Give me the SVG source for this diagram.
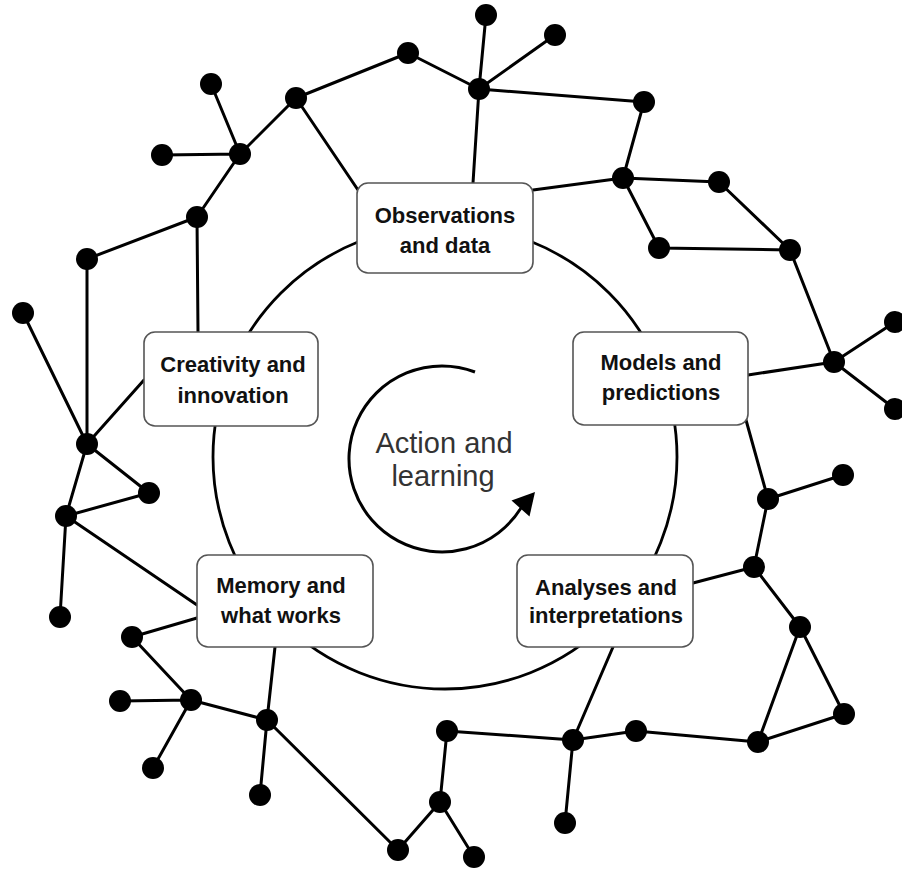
<svg xmlns="http://www.w3.org/2000/svg" width="902" height="869" viewBox="0 0 902 869">
<style>
.e{stroke:#000;stroke-width:3;fill:none;stroke-linecap:round}
.n{fill:#000}
.box{fill:#fff;stroke:#555;stroke-width:1.6}
.lbl{font-family:"Liberation Sans",Arial,sans-serif;font-weight:bold;font-size:22px;fill:#111;text-anchor:middle}
.ctr{font-family:"Liberation Sans",Arial,sans-serif;font-size:29px;fill:#333;text-anchor:middle}
</style>
<rect width="902" height="869" fill="#fff"/>
<g id="cycle">
<circle cx="445" cy="457" r="232" fill="none" stroke="#000" stroke-width="2.8"/>
<path d="M475,372 A93,93 0 1,0 521,508" fill="none" stroke="#000" stroke-width="3"/>
<polygon points="535,492 511.5,500.6 529.5,516.4" fill="#000"/>
<text class="ctr" x="444" y="453">Action and</text>
<text class="ctr" x="443" y="486">learning</text>
</g>
<g id="connectors">
<path class="e" d="M408,53L296,98M296,98L240,154M211,84L240,154M162,155L240,154M240,154L197,217M197,217L87,259M296,98L358,190"/>
<path class="e" d="M408,53L479,89M479,89L486,15M479,89L555,35M479,89L644,102M479,89L473,183M644,102L623,178M623,178L533,190M623,178L719,182M623,178L659,248M659,248L790,250M719,182L790,250M790,250L834,362M834,362L895,322M834,362L895,409M834,362L748,375"/>
<path class="e" d="M746,420L768,499M768,499L843,475M768,499L754,567M754,567L693,583M754,567L800,627M800,627L844,714M800,627L758,742M758,742L844,714M758,742L636,731M636,731L573,740M573,740L613,647M573,740L565,823M573,740L447,731"/>
<path class="e" d="M447,731L440,802M440,802L474,857M440,802L398,850M398,850L267,720M267,720L275,647M267,720L260,795M267,720L191,700M191,700L132,637M191,700L120,701M191,700L153,768M132,637L197,618"/>
<path class="e" d="M66,516L197,605M66,516L60,617M66,516L149,493M87,444L149,493M87,444L66,516M87,444L23,313M87,444L144,380M87,259L87,444M197,217L198,332"/>
</g>
<g id="dots">
<circle class="n" cx="408" cy="53" r="11"/><circle class="n" cx="296" cy="98" r="11"/><circle class="n" cx="211" cy="84" r="11"/><circle class="n" cx="240" cy="154" r="11"/><circle class="n" cx="162" cy="155" r="11"/><circle class="n" cx="197" cy="217" r="11"/><circle class="n" cx="87" cy="259" r="11"/>
<circle class="n" cx="486" cy="15" r="11"/><circle class="n" cx="555" cy="35" r="11"/><circle class="n" cx="479" cy="89" r="11"/><circle class="n" cx="644" cy="102" r="11"/><circle class="n" cx="623" cy="178" r="11"/><circle class="n" cx="719" cy="182" r="11"/><circle class="n" cx="659" cy="248" r="11"/><circle class="n" cx="790" cy="250" r="11"/>
<circle class="n" cx="834" cy="362" r="11"/><circle class="n" cx="895" cy="322" r="11"/><circle class="n" cx="895" cy="409" r="11"/><circle class="n" cx="843" cy="475" r="11"/><circle class="n" cx="768" cy="499" r="11"/><circle class="n" cx="754" cy="567" r="11"/>
<circle class="n" cx="800" cy="627" r="11"/><circle class="n" cx="844" cy="714" r="11"/><circle class="n" cx="758" cy="742" r="11"/><circle class="n" cx="636" cy="731" r="11"/><circle class="n" cx="573" cy="740" r="11"/><circle class="n" cx="565" cy="823" r="11"/>
<circle class="n" cx="447" cy="731" r="11"/><circle class="n" cx="474" cy="857" r="11"/><circle class="n" cx="440" cy="802" r="11"/><circle class="n" cx="398" cy="850" r="11"/><circle class="n" cx="267" cy="720" r="11"/><circle class="n" cx="260" cy="795" r="11"/>
<circle class="n" cx="191" cy="700" r="11"/><circle class="n" cx="120" cy="701" r="11"/><circle class="n" cx="153" cy="768" r="11"/><circle class="n" cx="132" cy="637" r="11"/><circle class="n" cx="60" cy="617" r="11"/><circle class="n" cx="66" cy="516" r="11"/><circle class="n" cx="149" cy="493" r="11"/><circle class="n" cx="87" cy="444" r="11"/><circle class="n" cx="23" cy="313" r="11"/>
</g>
<g id="observations">
<rect class="box" x="357" y="183" width="176" height="90" rx="11"/>
<text class="lbl" x="445" y="223">Observations</text>
<text class="lbl" x="445" y="253">and data</text>
</g>
<g id="models">
<rect class="box" x="573" y="332" width="175" height="93" rx="11"/>
<text class="lbl" x="661" y="370">Models and</text>
<text class="lbl" x="661" y="400">predictions</text>
</g>
<g id="analyses">
<rect class="box" x="517" y="555" width="176" height="92" rx="11"/>
<text class="lbl" x="606" y="595">Analyses and</text>
<text class="lbl" x="606" y="623">interpretations</text>
</g>
<g id="memory">
<rect class="box" x="197" y="555" width="176" height="92" rx="11"/>
<text class="lbl" x="281" y="593">Memory and</text>
<text class="lbl" x="281" y="623">what works</text>
</g>
<g id="creativity">
<rect class="box" x="144" y="332" width="174" height="94" rx="11"/>
<text class="lbl" x="233" y="372">Creativity and</text>
<text class="lbl" x="233" y="403">innovation</text>
</g>
</svg>
